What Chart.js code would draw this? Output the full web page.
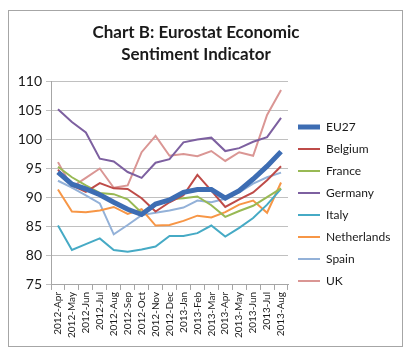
<!DOCTYPE html>
<html>
<head>
<meta charset="utf-8">
<script src="https://cdn.jsdelivr.net/npm/chart.js@4"></script>
<style>
  html, body { margin: 0; padding: 0; background: #fff; }
  #wrap { position: relative; width: 411px; height: 350px; }
  #frame { position: absolute; left: 8px; top: 10px; width: 393px; height: 335px; border: 1px solid #a6a6a6; }
  canvas { position: absolute; left: 0; top: 0; }
</style>
</head>
<body>
<div id="wrap">
  <div id="frame"></div>
  <canvas id="lineChart" width="411" height="350"></canvas>
</div>
<script>
// months on the x axis
var months = ['2012-Apr', '2012-May', '2012-Jun', '2012-Jul', '2012-Aug', '2012-Sep', '2012-Oct',
  '2012-Nov', '2012-Dec', '2013-Jan', '2013-Feb', '2013-Mar', '2013-Apr', '2013-May',
  '2013-Jun', '2013-Jul', '2013-Aug'];

// sentiment values
var eu27 = [94.4, 92.3, 91.5, 90.5, 89.2, 88.0, 87.1, 88.9, 89.6, 90.9, 91.4, 91.4, 89.9, 91.2, 93.2, 95.4, 97.9];
var belgium = [94.8, 92.1, 91.0, 92.5, 91.6, 91.5, 89.9, 87.6, 89.2, 90.4, 93.9, 91.2, 88.4, 89.7, 90.9, 93.0, 95.4];
var france = [95.3, 93.5, 92.1, 90.8, 90.6, 89.7, 87.4, 89.0, 89.7, 89.9, 90.2, 88.7, 86.7, 87.7, 88.6, 90.1, 91.6];
var germany = [105.2, 103.0, 101.2, 96.7, 96.2, 94.4, 93.4, 96.0, 96.6, 99.5, 100.0, 100.3, 98.0, 98.5, 99.6, 100.4, 103.7];
var italy = [85.2, 81.0, 82.0, 83.0, 81.0, 80.7, 81.1, 81.6, 83.4, 83.4, 83.9, 85.2, 83.3, 84.8, 86.5, 88.8, 91.5];
var netherlands = [91.4, 87.6, 87.5, 87.8, 88.4, 87.2, 88.0, 85.2, 85.3, 86.0, 86.9, 86.6, 87.5, 88.8, 89.5, 87.4, 92.6];
var spain = [92.9, 91.7, 90.4, 89.0, 83.7, 85.3, 87.0, 87.4, 87.8, 88.3, 89.5, 89.2, 89.8, 90.9, 92.4, 93.5, 94.3];
var uk = [96.1, 91.8, 93.4, 95.0, 91.7, 92.1, 97.8, 100.6, 97.2, 97.5, 97.1, 98.0, 96.3, 97.8, 97.2, 104.2, 108.5];

var yTicks = [75, 80, 85, 90, 95, 100, 105, 110];

var FONT = 'Lato, "Open Sans", sans-serif';

function series(label, values, color, width) {
    return {
        label: label,
        data: values,
        borderColor: color,
        backgroundColor: color,
        borderWidth: width,
        pointRadius: 0,
        tension: 0,
        fill: false
    };
}

// legend box is capped in width by the layout, so widen its clip area
// and push it down a bit so the entries sit like the original
var legendNudge = {
    id: 'legendNudge',
    afterLayout: function (chart) {
        var lg = chart.legend;
        lg.right = chart.width;
        lg.width = lg.right - lg.left;
        lg.top += 60;
        lg.height = lg.bottom - lg.top;
    }
};

var ctx = document.getElementById('lineChart').getContext('2d');

var lineChart = new Chart(ctx, {
    type: 'line',
    data: {
        labels: months,
        datasets: [
            series('EU27', eu27, '#3d6db3', 5),
            series('Belgium', belgium, '#be4b48', 2),
            series('France', france, '#98b954', 2),
            series('Germany', germany, '#7d60a0', 2),
            series('Italy', italy, '#46aac5', 2),
            series('Netherlands', netherlands, '#f79646', 2),
            series('Spain', spain, '#93b1d8', 2),
            series('UK', uk, '#da9694', 2)
        ]
    },
    plugins: [legendNudge],
    options: {
        responsive: false,
        animation: false,
        layout: { padding: { left: 12, right: 31, top: 8, bottom: 10 } },
        plugins: {
            title: {
                display: true,
                text: ['Chart B: Eurostat Economic', 'Sentiment Indicator'],
                color: '#1a1a1a',
                font: { family: FONT, size: 17, weight: 'bold', lineHeight: 1.3 },
                padding: { top: 13, bottom: 16 }
            },
            legend: {
                position: 'right',
                labels: {
                    usePointStyle: true,
                    pointStyle: 'line',
                    pointStyleWidth: 22,
                    color: '#1a1a1a',
                    padding: 10,
                    font: { family: FONT, size: 12 }
                }
            },
            tooltip: { enabled: false }
        },
        scales: {
            x: {
                offset: true,
                grid: { drawOnChartArea: false, drawTicks: true, tickLength: 5, offset: true, color: '#a6a6a6' },
                border: { display: true, color: '#a6a6a6' },
                ticks: {
                    autoSkip: false,
                    maxRotation: 90,
                    minRotation: 90,
                    color: '#1a1a1a',
                    padding: 2,
                    font: { family: FONT, size: 10 }
                }
            },
            y: {
                min: 75,
                max: 110,
                afterBuildTicks: function (scale) {
                    scale.ticks = yTicks.map(function (v) { return { value: v }; });
                },
                afterFit: function (scale) { scale.width = 39; },
                grid: { color: '#c0c0c0', tickLength: 5 },
                border: { display: true, color: '#a6a6a6' },
                ticks: {
                    color: '#1a1a1a',
                    padding: 4,
                    font: { family: FONT, size: 14 }
                }
            }
        }
    }
});
</script>
</body>
</html>
